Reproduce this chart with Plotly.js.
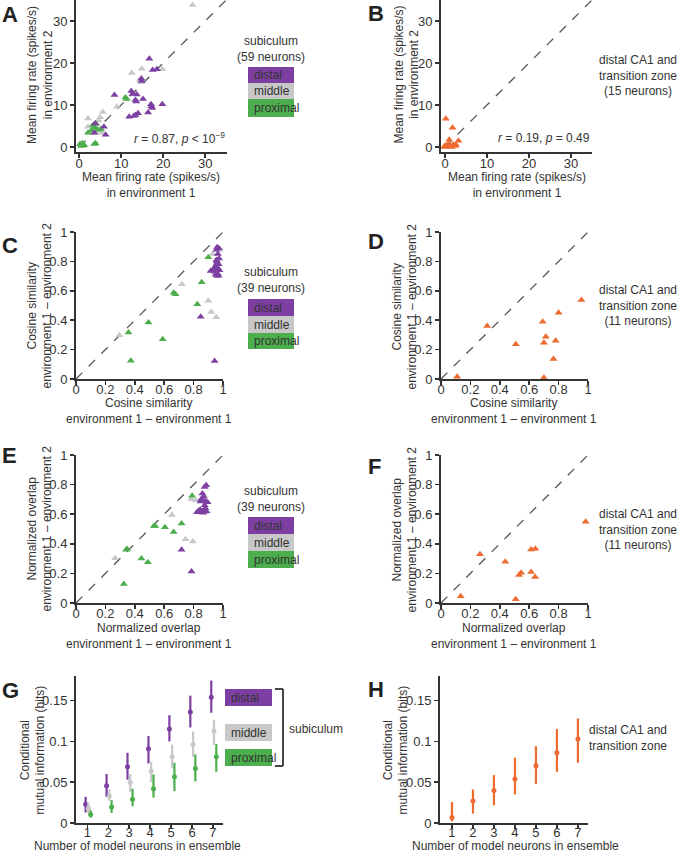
<!DOCTYPE html>
<html>
<head>
<meta charset="utf-8">
<script src="https://cdn.plot.ly/plotly-3.0.1.min.js"></script>
<style>html,body{margin:0;padding:0;background:#fff;}#chart{width:678px;height:852px;}</style>
</head>
<body>
<div id="chart"></div>
<script>
// ---------- DATA ----------
// Panel A: mean firing rate (spikes/s) env1 vs env2, subiculum
const A_distal_x = [16.7,17.5,18.5,14.8,14.9,8.4,12.4,12.7,13.7,13.4,13.6,15.2,17.1,17.2,17.4,19.8,11.9,13.0,13.4,14.0,16.4,3.8,3.6,5.9,6.3];
const A_distal_y = [21.0,18.3,18.5,16.3,15.7,12.4,13.3,12.6,12.5,11.2,10.8,11.4,10.2,9.7,9.3,10.2,7.2,7.4,7.6,8.0,8.2,5.6,3.4,4.8,2.9];
const A_middle_x = [27.0,12.5,14.9,19.8,14.4,14.7,9.0,5.6,5.0,2.1,4.6,2.1,3.0,4.3,4.8,4.1,5.5,0.2,1.0];
const A_middle_y = [33.8,17.6,18.6,18.5,15.9,15.4,9.6,8.3,7.1,6.8,6.3,4.8,5.0,5.3,4.0,3.3,3.4,0.5,0.3];
const A_prox_x = [11.0,11.3,3.9,3.3,3.7,4.4,5.2,2.1,2.9,3.9,3.6,0.2,0.8,1.2,0.5];
const A_prox_y = [11.8,11.4,5.6,5.2,4.6,4.1,4.2,3.4,3.9,0.9,0.7,0.7,0.9,0.4,0.2];
// Panel B: distal CA1 and transition zone
const B_x = [0.2,1.8,3.2,1.0,0.6,0.2,2.0,2.4,1.4,0.0,0.8,2.6,-0.2,1.6,1.0];
const B_y = [6.7,4.6,1.5,1.7,0.5,0.1,0.5,0.2,0.3,0.3,0.6,0.5,0.0,0.0,0.1];
// Panel C: cosine similarity
const C_distal_x = [0.960,0.972,0.955,0.965,0.973,0.955,0.960,0.950,0.966,0.916,0.943,0.960,0.950,0.967,0.848,0.943,0.970,0.945,0.962,0.935,0.958,0.975];
const C_distal_y = [0.896,0.890,0.880,0.850,0.820,0.810,0.787,0.770,0.753,0.735,0.730,0.720,0.710,0.710,0.424,0.122,0.780,0.760,0.700,0.745,0.800,0.740];
const C_middle_x = [0.980,0.930,0.977,0.720,0.900,0.920,0.955,0.295];
const C_middle_y = [0.880,0.850,0.703,0.644,0.533,0.456,0.420,0.297];
const C_prox_x = [0.900,0.855,0.664,0.677,0.825,0.493,0.357,0.590,0.373];
const C_prox_y = [0.828,0.658,0.587,0.576,0.508,0.385,0.317,0.270,0.125];
// Panel D
const D_x = [0.955,0.800,0.692,0.713,0.700,0.780,0.509,0.765,0.314,0.110,0.700];
const D_y = [0.537,0.451,0.390,0.288,0.247,0.260,0.236,0.136,0.360,0.016,0.009];
// Panel E: normalized overlap
const E_distal_x = [0.886,0.875,0.860,0.868,0.848,0.882,0.895,0.875,0.836,0.860,0.875,0.823,0.886,0.718,0.786,0.850,0.870,0.880,0.845,0.865];
const E_distal_y = [0.795,0.783,0.740,0.720,0.686,0.686,0.680,0.660,0.625,0.620,0.623,0.614,0.618,0.359,0.212,0.700,0.690,0.640,0.630,0.610];
const E_middle_x = [0.784,0.814,0.875,0.893,0.652,0.745,0.795,0.266];
const E_middle_y = [0.702,0.693,0.720,0.620,0.594,0.431,0.415,0.302];
const E_prox_x = [0.790,0.530,0.539,0.605,0.718,0.664,0.341,0.348,0.445,0.489,0.325];
const E_prox_y = [0.725,0.521,0.521,0.512,0.537,0.480,0.359,0.365,0.300,0.275,0.129];
// Panel F
const F_x = [0.984,0.265,0.437,0.613,0.642,0.613,0.545,0.531,0.640,0.134,0.508];
const F_y = [0.549,0.330,0.278,0.361,0.366,0.210,0.205,0.190,0.176,0.045,0.025];
// Panel G: conditional mutual information (bits)
const ensembleSize = [1,2,3,4,5,6,7];
const G_distal = [0.023,0.0455,0.069,0.091,0.115,0.136,0.154];
const G_distal_hi = [0.032,0.060,0.086,0.1065,0.132,0.156,0.1745];
const G_distal_lo = [0.013,0.032,0.053,0.073,0.100,0.117,0.135];
const G_middle = [0.018,0.033,0.0496,0.0635,0.081,0.096,0.1127];
const G_middle_hi = [0.025,0.041,0.060,0.075,0.096,0.112,0.126];
const G_middle_lo = [0.012,0.027,0.038,0.050,0.067,0.081,0.0955];
const G_prox = [0.0103,0.0197,0.029,0.042,0.0565,0.0668,0.081];
const G_prox_hi = [0.0156,0.028,0.042,0.0595,0.0737,0.084,0.0967];
const G_prox_lo = [0.0066,0.0123,0.0205,0.031,0.039,0.051,0.0627];
// Panel H
const H_mean = [0.0066,0.027,0.0398,0.054,0.070,0.086,0.1028];
const H_hi = [0.0258,0.041,0.0586,0.080,0.094,0.115,0.128];
const H_lo = [0.002,0.0115,0.0217,0.035,0.048,0.0627,0.0737];
// Tick labels
const rateTicks = [0,10,20,30];
const rateTickText = ['0','10','20','30'];
const simTicks = [0,0.2,0.4,0.6,0.8,1];
const simTickText = ['0','0.2','0.4','0.6','0.8','1'];
const miTicks = [0,0.05,0.1,0.15];
const miTickText = ['0','0.05','0.1','0.15'];
const nTicks = [1,2,3,4,5,6,7];
const nTickText = ['1','2','3','4','5','6','7'];

// ---------- STYLE ----------
const W = 678, H = 852;
const FONT = 'Liberation Sans, Arial, Helvetica, sans-serif';
const PURPLE = '#7d40a2', GRAY = '#c8c8c8', GREEN = '#4dae4d', ORANGE = '#ee6a30';
const TXT = '#333333';
const px = v => v / W;
const py = v => 1 - v / H;

function xax(l, r, range, tv, tt, anchor, fs, so) {
  return {domain:[px(l),px(r)], range:range, anchor:anchor, tickvals:tv, ticktext:tt,
    showline:true, linecolor:'#333', linewidth:2, ticks:'outside', ticklen:4, tickwidth:1.5, tickcolor:'#333',
    ticklabelstandoff:(so===undefined ? -6 : so),
    showgrid:false, zeroline:false, tickfont:{size:fs||14, color:TXT, family:FONT}, fixedrange:true};
}
function yax(top, bottom, range, tv, tt, anchor, fs) {
  return {domain:[py(bottom),py(top)], range:range, anchor:anchor, tickvals:tv, ticktext:tt,
    showline:true, linecolor:'#333', linewidth:2, ticks:'outside', ticklen:4, tickwidth:1.5, tickcolor:'#333',
    showgrid:false, zeroline:false, tickfont:{size:fs||14, color:TXT, family:FONT}, fixedrange:true};
}

function tri(x, y, color, xa, ya) {
  return {type:'scatter', mode:'markers', x:x, y:y, xaxis:xa, yaxis:ya, cliponaxis:false,
    marker:{symbol:'triangle-up', size:7, color:color, line:{width:0}}, hoverinfo:'skip'};
}
function errs(x, m, hi, lo, color, xa, ya, shift) {
  return {type:'scatter', mode:'markers', x:x.map(v => v + shift), y:m, xaxis:xa, yaxis:ya,
    error_y:{type:'data', symmetric:false, array:hi.map((h,i)=>h-m[i]), arrayminus:lo.map((l,i)=>m[i]-l),
      color:color, thickness:2.2, width:0},
    marker:{symbol:'circle', size:5, color:color}, hoverinfo:'skip'};
}

const traces = [
  tri(A_middle_x, A_middle_y, GRAY, 'x', 'y'),
  tri(A_prox_x, A_prox_y, GREEN, 'x', 'y'),
  tri(A_distal_x, A_distal_y, PURPLE, 'x', 'y'),
  tri(B_x, B_y, ORANGE, 'x2', 'y2'),
  tri(C_middle_x, C_middle_y, GRAY, 'x3', 'y3'),
  tri(C_prox_x, C_prox_y, GREEN, 'x3', 'y3'),
  tri(C_distal_x, C_distal_y, PURPLE, 'x3', 'y3'),
  tri(D_x, D_y, ORANGE, 'x4', 'y4'),
  tri(E_middle_x, E_middle_y, GRAY, 'x5', 'y5'),
  tri(E_prox_x, E_prox_y, GREEN, 'x5', 'y5'),
  tri(E_distal_x, E_distal_y, PURPLE, 'x5', 'y5'),
  tri(F_x, F_y, ORANGE, 'x6', 'y6'),
  errs(ensembleSize, G_distal, G_distal_hi, G_distal_lo, PURPLE, 'x7', 'y7', -0.08),
  errs(ensembleSize, G_middle, G_middle_hi, G_middle_lo, GRAY, 'x7', 'y7', 0.05),
  errs(ensembleSize, G_prox, G_prox_hi, G_prox_lo, GREEN, 'x7', 'y7', 0.16),
  errs(ensembleSize, H_mean, H_hi, H_lo, ORANGE, 'x8', 'y8', 0)
];

// diagonal unity lines
function diag(xa, ya, lo, hi) {
  return {type:'line', xref:xa, yref:ya, x0:lo, y0:lo, x1:hi, y1:hi, layer:'below',
    line:{color:'#555', width:1.3, dash:'dash'}};
}
const shapes = [
  diag('x','y',0,35), diag('x2','y2',0,35), diag('x3','y3',0,1), diag('x4','y4',0,1),
  diag('x5','y5',0,1), diag('x6','y6',0,1)
];
function box(l, t, r, b, color) {
  return {type:'rect', xref:'paper', yref:'paper', x0:px(l), x1:px(r), y0:py(b), y1:py(t),
    fillcolor:color, line:{width:0}};
}
function seg(x0, y0, x1, y1) {
  return {type:'line', xref:'paper', yref:'paper', x0:px(x0), y0:py(y0), x1:px(x1), y1:py(y1),
    line:{color:'#333', width:1.8}};
}
// legend boxes
[[67,83,99,117],[299,316,333,349],[517,534,551,568]].forEach(b => {
  shapes.push(box(248,b[0],294,b[1],PURPLE), box(248,b[1],294,b[2],GRAY), box(248,b[2],294,b[3],GREEN));
});
shapes.push(box(225,689,272,706,PURPLE), box(225,724,272,741,GRAY), box(225,749,272,766,GREEN));
shapes.push(seg(275,689,283,689), seg(283,689,283,766), seg(275,766,283,766));

const annotations = [];
function ann(text, x, y, o) {
  o = o || {};
  annotations.push(Object.assign({text:text, x:px(x), y:py(y), xref:'paper', yref:'paper', showarrow:false,
    xanchor:'center', yanchor:'middle', font:{size:12, color:TXT, family:FONT}}, o));
}
function title2(text, x, y, rot) {
  ann(text, x, y, rot ? {textangle:-90} : {});
}
// panel letters
const letterFont = {size:22, color:'#222', family:FONT};
[['A',0,15],['B',366,13],['C',0,245],['D',366,241],['E',0,455],['F',366,466],['G',0,690],['H',366,689]]
  .forEach(l => ann('<b>'+l[0]+'</b>', l[1], l[2], {xanchor:'left', font:letterFont}));

// axis titles
title2('Mean firing rate (spikes/s)<br>in environment 1', 151, 184.5);
title2('Mean firing rate (spikes/s)<br>in environment 2', 40, 75, true);
title2('Mean firing rate (spikes/s)<br>in environment 1', 517, 184.5);
title2('Mean firing rate (spikes/s)<br>in environment 2', 406.5, 75, true);
title2('Cosine similarity<br>environment 1 – environment 1', 149, 411);
title2('Cosine similarity<br>environment 1 – environment 2', 39.5, 306, true);
title2('Cosine similarity<br>environment 1 – environment 1', 514, 411);
title2('Cosine similarity<br>environment 1 – environment 2', 404.5, 306, true);
title2('Normalized overlap<br>environment 1 – environment 1', 149, 636);
title2('Normalized overlap<br>environment 1 – environment 2', 39.5, 529, true);
title2('Normalized overlap<br>environment 1 – environment 1', 514, 636);
title2('Normalized overlap<br>environment 1 – environment 2', 404.5, 529, true);
title2('Conditional<br>mutual information (bits)', 32.5, 750, true);
title2('Number of model neurons in ensemble', 137, 845.5);
title2('Conditional<br>mutual information (bits)', 395.5, 750, true);
title2('Number of model neurons in ensemble', 515, 845.5);

// stats
ann('<i>r</i> = 0.87, <i>p</i> &lt; 10<sup>−9</sup>', 227, 138, {xanchor:'right'});
ann('<i>r</i> = 0.19, <i>p</i> = 0.49', 592, 138, {xanchor:'right'});

// legends
ann('subiculum<br>(59 neurons)', 271, 49);
ann('subiculum<br>(39 neurons)', 271, 280.5);
ann('subiculum<br>(39 neurons)', 271, 499);
[[75,91,108],[307.5,324.5,341],[525.5,542.5,559.5]].forEach(r => {
  ann('distal', 252, r[0], {xanchor:'left'});
  ann('middle', 252, r[1], {xanchor:'left'});
  ann('proximal', 252, r[2], {xanchor:'left'});
});
ann('distal', 229, 697.5, {xanchor:'left'});
ann('middle', 229, 732.5, {xanchor:'left'});
ann('proximal', 229, 757.5, {xanchor:'left'});
ann('subiculum', 287, 729, {xanchor:'left'});
ann('distal CA1 and<br>transition zone<br>(15 neurons)', 638, 75);
ann('distal CA1 and<br>transition zone<br>(11 neurons)', 638, 306);
ann('distal CA1 and<br>transition zone<br>(11 neurons)', 638, 529);
ann('distal CA1 and<br>transition zone', 628, 738);

const layout = {
  width:W, height:H, margin:{l:0,r:0,t:0,b:0}, showlegend:false,
  paper_bgcolor:'#fff', plot_bgcolor:'rgba(0,0,0,0)', font:{family:FONT, color:TXT},
  xaxis: xax(76,227,[-0.76,35.2],rateTicks,rateTickText,'y',13,-6),
  yaxis: yax(0,152,[-1.2,35],rateTicks,rateTickText,'x',13),
  xaxis2: xax(441,592,[-0.95,35],rateTicks,rateTickText,'y2',13,-6),
  yaxis2: yax(0,152,[-1.2,35],rateTicks,rateTickText,'x2',13),
  xaxis3: xax(76,223,[0,1],simTicks,simTickText,'y3',13,-7),
  yaxis3: yax(232,379,[0,1],simTicks,simTickText,'x3',13),
  xaxis4: xax(441,588,[0,1],simTicks,simTickText,'y4',13,-7),
  yaxis4: yax(232,379,[0,1],simTicks,simTickText,'x4',13),
  xaxis5: xax(76,223,[0,1],simTicks,simTickText,'y5',13,-7),
  yaxis5: yax(455,603,[0,1],simTicks,simTickText,'x5',13),
  xaxis6: xax(441,588,[0,1],simTicks,simTickText,'y6',13,-7),
  yaxis6: yax(455,603,[0,1],simTicks,simTickText,'x6',13),
  xaxis7: xax(76,223,[0.46,7.48],nTicks,nTickText,'y7',13,-8),
  yaxis7: yax(676,823,[0,0.18],miTicks,miTickText,'x7',13),
  xaxis8: xax(440,588,[0.43,7.48],nTicks,nTickText,'y8',13,-8),
  yaxis8: yax(676,823,[0,0.18],miTicks,miTickText,'x8',13),
  shapes:shapes, annotations:annotations
};
Plotly.newPlot('chart', traces, layout, {staticPlot:true, displayModeBar:false});
</script>
</body>
</html>
